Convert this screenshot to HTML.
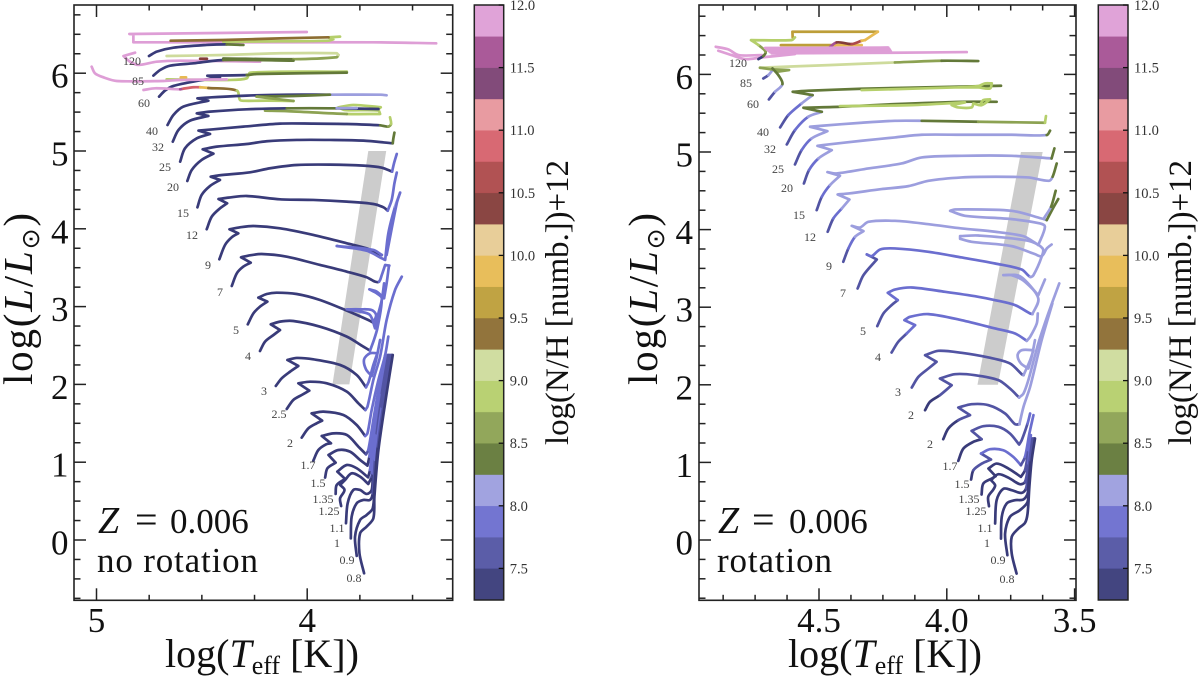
<!DOCTYPE html>
<html lang="en">
<head>
<meta charset="utf-8">
<title>HR diagrams, Z = 0.006</title>
<style>
html,body{margin:0;padding:0;background:#fff;}
svg{display:block;}
text{font-family:"Liberation Serif","DejaVu Serif",serif;fill:#111;}
.mass{font-size:12px;fill:#444;text-anchor:middle;}
.big{font-size:35px;}
.i{font-style:italic;}
</style>
</head>
<body>
<svg id="chart" width="1200" height="677" viewBox="0 0 1200 677" xmlns="http://www.w3.org/2000/svg">
<defs>
<clipPath id="clipL"><rect x="74" y="5" width="379" height="595"/></clipPath>
<clipPath id="clipR"><rect x="699" y="5" width="377" height="595"/></clipPath>
</defs>
<g id="panelL">
<g id="marksL" clip-path="url(#clipL)"></g>
<g id="axesL"></g>
<g id="cbL"></g>
<g>
<text class="mass" x="132" y="65">120</text>
<text class="mass" x="138" y="85">85</text>
<text class="mass" x="144" y="107">60</text>
<text class="mass" x="152" y="135">40</text>
<text class="mass" x="158" y="151">32</text>
<text class="mass" x="165" y="171">25</text>
<text class="mass" x="173" y="191">20</text>
<text class="mass" x="183" y="217">15</text>
<text class="mass" x="192" y="239">12</text>
<text class="mass" x="208" y="269">9</text>
<text class="mass" x="220" y="296">7</text>
<text class="mass" x="236" y="334">5</text>
<text class="mass" x="248" y="360">4</text>
<text class="mass" x="264" y="395">3</text>
<text class="mass" x="279" y="418">2.5</text>
<text class="mass" x="290" y="447">2</text>
<text class="mass" x="308" y="469">1.7</text>
<text class="mass" x="318" y="487">1.5</text>
<text class="mass" x="323" y="503">1.35</text>
<text class="mass" x="329" y="515">1.25</text>
<text class="mass" x="337" y="532">1.1</text>
<text class="mass" x="337" y="547">1</text>
<text class="mass" x="347" y="564">0.9</text>
<text class="mass" x="354" y="582">0.8</text>
</g>
<text class="big" y="533"><tspan class="i" x="98" font-size="38">Z</tspan><tspan x="135" font-size="40">=</tspan><tspan x="170">0.006</tspan></text>
<text class="big" x="97" y="572" textLength="161">no rotation</text>
<text x="165" y="667" font-size="40">log(<tspan class="i">T</tspan><tspan font-size="26" dy="7">eff</tspan><tspan dy="-7"> [K])</tspan></text>
<text transform="translate(32,385) rotate(-90)" font-size="41" textLength="172">log(<tspan class="i">L</tspan>/<tspan class="i">L</tspan><tspan font-size="25" dy="7" style="font-family:'DejaVu Sans',sans-serif">⊙</tspan><tspan dy="-7">)</tspan></text>
<text transform="translate(568,445) rotate(-90)" font-size="33" textLength="285">log(N/H [numb.])+12</text>
</g>
<g id="panelR">
<g id="marksR" clip-path="url(#clipR)"></g>
<g id="axesR"></g>
<g id="cbR"></g>
<g>
<text class="mass" x="738" y="67">120</text>
<text class="mass" x="746" y="87">85</text>
<text class="mass" x="753" y="108">60</text>
<text class="mass" x="763" y="136">40</text>
<text class="mass" x="770" y="153">32</text>
<text class="mass" x="778" y="173">25</text>
<text class="mass" x="787" y="192">20</text>
<text class="mass" x="799" y="219">15</text>
<text class="mass" x="810" y="241">12</text>
<text class="mass" x="829" y="270">9</text>
<text class="mass" x="843" y="297">7</text>
<text class="mass" x="863" y="335">5</text>
<text class="mass" x="878" y="361">4</text>
<text class="mass" x="898" y="396">3</text>
<text class="mass" x="911" y="419">2</text>
<text class="mass" x="930" y="448">2</text>
<text class="mass" x="950" y="470">1.7</text>
<text class="mass" x="962" y="488">1.5</text>
<text class="mass" x="969" y="503">1.35</text>
<text class="mass" x="976" y="515">1.25</text>
<text class="mass" x="985" y="532">1.1</text>
<text class="mass" x="987" y="547">1</text>
<text class="mass" x="998" y="564">0.9</text>
<text class="mass" x="1007" y="583">0.8</text>
</g>
<text class="big" y="533"><tspan class="i" x="718" font-size="38">Z</tspan><tspan x="752" font-size="40">=</tspan><tspan x="789">0.006</tspan></text>
<text class="big" x="717" y="572" textLength="115">rotation</text>
<text x="788" y="667" font-size="40">log(<tspan class="i">T</tspan><tspan font-size="26" dy="7">eff</tspan><tspan dy="-7"> [K])</tspan></text>
<text transform="translate(657,385) rotate(-90)" font-size="41" textLength="172">log(<tspan class="i">L</tspan>/<tspan class="i">L</tspan><tspan font-size="25" dy="7" style="font-family:'DejaVu Sans',sans-serif">⊙</tspan><tspan dy="-7">)</tspan></text>
<text transform="translate(1191,445) rotate(-90)" font-size="33" textLength="285">log(N/H [numb.])+12</text>
</g>
</svg>
<script>
// Colour scale: log(N/H)+12 bins
const nhColors = ['#393b79','#5254a3','#6b6ecf','#9c9ede','#637939','#8ca252','#b5cf6b','#cedb9c','#8c6d31','#bd9e39','#e7ba52','#e7cb94','#843c39','#ad494a','#d6616b','#e7969c','#7b4173','#a55194','#de9ed6'];
const nhMin = 7.25;
const nhStep = 0.25;
const cbTickValues = [7.5,8.0,8.5,9.0,9.5,10.0,10.5,11.0,11.5,12.0];
const lumTicks = [0,1,2,3,4,5,6];
const leftTempTicks = [5,4];
const rightTempTicks = [4.5,4.0,3.5];

// Instability band (both panels)
const bandT = [3.71,3.625,3.80,3.88];
const bandL = [5,5,2,2];

// ---- no-rotation tracks: logTeff (T), logL (L), N/H per point (N, last value holds) ----
const lT120=[4.751,4.714,4.635,4.477,4.382,4.303];
const lL120=[6.221,6.277,6.328,6.363,6.371,6.363];
const lN120=[7.4,7.4,7.4,7.4,7.4,8.4];
const lT120p=[4.002,4.844,4.825,4.825,4.398,3.686,3.388];
const lL120p=[6.530,6.504,6.500,6.397,6.397,6.397,6.384];
const lN120p=[11.9];
const lT120g=[4.398,4.129,3.899,3.876,3.899,3.844];
const lL120g=[6.405,6.41,6.418,6.435,6.461,6.470];
const lN120g=[8.9];
const lT120b=[4.648,4.398,4.129,3.899];
const lL120b=[6.418,6.427,6.448,6.461];
const lN120b=[9.4];

const lT85g=[4.398,4.065,3.860,3.852,3.860,4.129,4.398,4.667];
const lL85g=[6.190,6.180,6.205,6.234,6.256,6.256,6.234,6.221];
const lN85g=[8.4,8.4,8.6,8.6,9.1];
const lT85p=[4.817,4.872,4.841,4.801,4.714,4.603,4.224];
const lL85p=[6.264,6.221,6.148,6.106,6.148,6.161,6.148];
const lN85p=[11.9];
const lT85=[4.730,4.698,4.651,4.540,4.398,4.065];
const lL85=[5.969,6.041,6.097,6.127,6.170,6.161];
const lN85=[7.4,7.4,7.4,7.4,7.4,8.4];
const lT85r=[4.508,4.476];
const lL85r=[6.186,6.186];
const lN85r=[10.4];

const lT60g=[3.812,4.271,4.287,4.374,4.667];
const lL60g=[6.020,6.007,5.934,5.913,5.921];
const lN60g=[8.9];
const lT60=[4.703,4.675,4.635,4.524,4.414,4.474,4.287,4.240,3.812];
const lL60=[5.699,5.776,5.836,5.900,5.947,5.968,5.977,5.990,6.007];
const lN60=[7.4,7.4,7.4,7.4,7.4,7.4,7.4,8.4];
const lT60p=[5.023,5.007,4.967,4.904,4.682,4.603,4.382];
const lL60p=[6.084,5.998,5.947,5.900,5.900,5.913,5.921];
const lN60p=[11.9];
const lT60o=[4.600,4.575];
const lL60o=[5.947,5.947];
const lN60o=[9.9];

const lT40r=[4.777,4.722,4.603,4.588,4.540,4.508,4.469,4.334,4.319,4.295,4.192,4.065];
const lL40r=[5.784,5.806,5.793,5.801,5.819,5.819,5.810,5.776,5.656,5.645,5.647,5.643];
const lN40r=[11.9,11.9,11.9,11.6,10.9,10.9,9.9,9.4,8.9];
const lT40=[4.663,4.635,4.588,4.469,4.521,4.453,4.287,4.097,3.892,3.654,3.623];
const lL40=[5.334,5.463,5.570,5.647,5.677,5.690,5.712,5.724,5.724,5.724,5.716];
const lN40=[7.4,7.4,7.4,7.4,7.4,7.4,7.4,7.4,7.4,8.1];
const lT40g=[4.240,4.065,3.892];
const lL40g=[5.699,5.707,5.724];
const lN40g=[8.4];
const lT40h=[4.240,4.160,4.065];
const lL40h=[5.699,5.673,5.643];
const lN40h=[8.6];

const lT32g=[3.662,3.651,3.781,3.852,3.821,3.662,3.654,3.812,4.097,4.200];
const lL32g=[5.540,5.562,5.592,5.562,5.527,5.520,5.476,5.476,5.513,5.519];
const lN32g=[8.9,8.9,8.9,8.9,8.9,8.9,8.9,8.9,8.6];
const lT32=[4.638,4.611,4.556,4.469,4.524,4.461,4.287,4.097,3.860,3.662];
const lL32=[5.120,5.270,5.390,5.450,5.484,5.506,5.536,5.549,5.549,5.540];
const lN32=[7.4,7.4,7.4,7.4,7.4,7.4,7.4,7.4,8.4,7.4];
const lT32b=[3.860,3.765];
const lL32b=[5.552,5.552];
const lN32b=[8.1];

const lT25=[4.603,4.580,4.524,4.461,4.516,4.445,4.303,4.129,3.971,3.812,3.654,3.615,3.602,3.607];
const lL25=[4.863,5.035,5.163,5.219,5.262,5.279,5.313,5.352,5.352,5.347,5.330,5.313,5.347,5.433];
const lN25=[7.4,7.4,7.4,7.4,7.4,7.4,7.4,7.4,7.4,7.4,7.4,8.4,8.6,8.9];

const lT20=[4.569,4.548,4.501,4.445,4.496,4.429,4.287,4.192,4.050,3.892,3.733,3.594,3.591,3.586];
const lL20=[4.615,4.756,4.885,4.966,5.022,5.056,5.090,5.125,5.142,5.142,5.133,5.099,5.163,5.236];
const lN20=[7.4,7.4,7.4,7.4,7.4,7.4,7.4,7.4,7.4,7.4,7.4,7.4,8.4];

const lT15=[4.521,4.501,4.461,4.414,4.458,4.414,4.271,4.176,4.050,3.892,3.733,3.646,3.597,3.588,3.575];
const lL15=[4.276,4.435,4.551,4.628,4.670,4.688,4.726,4.778,4.820,4.825,4.812,4.786,4.735,4.842,4.962];
const lN15=[7.4,7.4,7.4,7.4,7.4,7.4,7.4,7.4,7.4,7.4,7.4,7.4,7.4,7.9];

const lT12=[4.477,4.453,4.414,4.380,4.421,4.374,4.287,4.129,3.971,3.812,3.686,3.638,3.618,3.599,3.586,3.575];
const lL12=[3.994,4.156,4.263,4.328,4.383,4.401,4.422,4.379,4.371,4.349,4.319,4.276,4.233,4.371,4.585,4.722];
const lN12=[7.4,7.4,7.4,7.4,7.4,7.4,7.4,7.4,7.4,7.4,7.4,7.4,7.4,7.9];

const lT9=[4.417,4.390,4.358,4.327,4.369,4.319,4.255,4.129,3.971,3.812,3.718,3.670,3.646,3.686,3.860,3.718,3.646,3.630,3.615,3.583,3.559,3.575,3.623];
const lL9=[3.608,3.792,3.891,3.942,3.994,4.019,4.036,4.006,3.921,3.814,3.749,3.685,3.664,3.728,3.779,3.719,3.621,3.600,3.942,4.285,4.465,4.328,3.664];
const lN9=[7.4,7.4,7.4,7.4,7.4,7.4,7.4,7.4,7.4,7.4,7.4,7.4,7.4,7.9,7.9,7.9,7.9,7.9,7.9,7.9,8.1,7.9];

const lT7=[4.358,4.334,4.303,4.268,4.314,4.271,4.216,4.097,3.939,3.812,3.718,3.678,3.659,3.646,3.630,3.610];
const lL7=[3.265,3.428,3.514,3.565,3.634,3.659,3.676,3.642,3.535,3.449,3.377,3.321,3.321,3.407,3.535,3.527];
const lN7=[7.4,7.4,7.4,7.4,7.4,7.4,7.4,7.4,7.4,7.4,7.4,7.4,7.4,7.9];

const lT5=[4.282,4.255,4.224,4.189,4.232,4.192,4.145,4.050,3.939,3.812,3.718,3.686,3.673,3.694,3.749,3.812,3.749,3.702,3.678,3.662,3.646,3.635];
const lL5=[2.772,2.914,3.000,3.064,3.115,3.162,3.179,3.162,3.085,2.948,2.837,2.794,2.892,2.956,2.965,2.965,2.935,2.892,2.721,2.914,3.085,3.299];
const lN5=[7.4,7.4,7.4,7.4,7.4,7.4,7.4,7.4,7.4,7.4,7.4,7.4,7.9];

const lT4=[4.224,4.200,4.160,4.129,4.173,4.129,4.066,3.939,3.812,3.733,3.702,3.686,3.667,3.646,3.670,3.705,3.670,3.635,3.623,3.612];
const lL4=[2.429,2.550,2.635,2.699,2.772,2.807,2.815,2.742,2.614,2.485,2.434,2.550,2.721,3.107,3.171,3.222,3.192,3.107,3.299,3.526];
const lN4=[7.4,7.4,7.4,7.4,7.4,7.4,7.4,7.4,7.4,7.4,7.4,7.9];

const lT3=[4.149,4.121,4.081,4.042,4.094,4.050,3.971,3.844,3.765,3.721,3.708,3.686,3.667,3.702,3.730,3.721,3.694,3.673,3.654];
const lL3=[1.980,2.078,2.164,2.237,2.314,2.340,2.322,2.250,2.121,1.963,2.035,2.250,2.400,2.400,2.322,2.194,2.108,2.314,2.571];
const lN3=[7.4,7.4,7.4,7.4,7.4,7.4,7.4,7.4,7.4,7.4,7.9];

const lT25b=[4.097,4.066,4.026,3.990,4.042,3.986,3.907,3.812,3.757,3.724,3.714,3.686,3.654,3.623,3.583,3.551];
const lL25b=[1.684,1.800,1.864,1.920,2.014,2.035,2.014,1.907,1.757,1.671,1.714,2.057,2.357,2.828,3.214,3.385];
const lN25b=[7.4,7.4,7.4,7.4,7.4,7.4,7.4,7.4,7.4,7.4,7.9];

const lT2=[4.026,3.994,3.955,3.929,3.979,3.923,3.828,3.765,3.725,3.714,3.694,3.662,3.630,3.615];
const lL2=[1.316,1.436,1.500,1.534,1.628,1.650,1.607,1.478,1.337,1.371,1.671,2.057,2.378,2.614];
const lN2=[7.4,7.4,7.4,7.4,7.4,7.4,7.4,7.4,7.4,7.9];

const lT17=[3.971,3.947,3.910,3.887,3.931,3.876,3.812,3.757,3.721,3.710,3.686,3.662,3.630];
const lL17=[1.020,1.157,1.230,1.243,1.337,1.371,1.350,1.200,1.101,1.157,1.543,1.928,2.378];
const lN17=[7.4,7.4,7.4,7.4,7.4,7.4,7.4,7.4,7.4,7.6,7.9];

const lT15b=[3.915,3.904,3.865,3.899,3.852,3.797,3.749,3.714,3.705,3.686,3.659,3.626];
const lL15b=[0.802,0.922,0.994,1.093,1.157,1.136,1.029,0.956,1.072,1.457,1.885,2.378];
const lN15b=[7.4,7.4,7.4,7.4,7.4,7.4,7.4,7.4,7.4,7.9,7.9];

const lT135=[3.865,3.860,3.820,3.857,3.812,3.765,3.711,3.702,3.683,3.654,3.619];
const lL135=[0.592,0.707,0.785,0.879,0.964,0.922,0.806,0.900,1.371,1.885,2.378];
const lN135=[7.4,7.4,7.4,7.4,7.4,7.4,7.4,7.4,7.9,7.9];

const lT125=[3.839,3.844,3.823,3.844,3.820,3.789,3.749,3.710,3.695,3.678,3.646,3.615];
const lL125=[0.437,0.536,0.643,0.707,0.772,0.857,0.814,0.720,0.814,1.286,1.885,2.378];
const lN125=[7.4,7.4,7.4,7.4,7.4,7.4,7.4,7.4,7.4,7.9,7.9,7.6];

const lT11=[3.816,3.808,3.781,3.749,3.718,3.694,3.689,3.670,3.646,3.610];
const lL11=[0.215,0.472,0.643,0.643,0.592,0.643,0.857,1.371,1.843,2.378];
const lN11=[7.4,7.4,7.4,7.4,7.4,7.4,7.4,7.9,7.6];

const lT10=[3.793,3.789,3.765,3.733,3.702,3.689,3.678,3.646,3.603];
const lL10=[0.022,0.300,0.472,0.515,0.515,0.600,1.029,1.714,2.378];
const lN10=[7.4,7.4,7.4,7.4,7.4,7.4,7.6,7.9,7.6];

const lT09=[3.765,3.773,3.749,3.718,3.689,3.681,3.665,3.630,3.599];
const lL09=[-0.205,0.043,0.257,0.322,0.407,0.686,1.200,1.885,2.378];
const lN09=[7.4,7.4,7.4,7.4,7.4,7.4,7.4,7.6];

const lT08=[3.730,3.752,3.749,3.718,3.686,3.681,3.662,3.623,3.594];
const lL08=[-0.428,-0.171,0.086,0.172,0.279,0.557,1.157,1.885,2.378];
const lN08=[7.4];

// ---- rotation tracks ----
const rT120p1=[4.904,4.855,4.815,4.724];
const rL120p1=[6.356,6.322,6.249,6.249];
const rN120p1=[11.9];
const rT120p2=[4.894,4.842,4.789,4.724,4.594];
const rL120p2=[6.305,6.249,6.197,6.219,6.262];
const rN120p2=[11.9];
const rT120o=[4.603,4.604,4.270,4.320];
const rL120o=[6.477,6.550,6.550,6.442];
const rN120o=[9.6,9.6,9.6,9.9];
const rT120q=[4.649,4.437,4.333];
const rL120q=[6.378,6.378,6.378];
const rN120q=[9.6,9.6,9.9];
const rT120=[4.737,4.718,4.709,4.737,4.766,4.607,4.594];
const rL120=[6.197,6.236,6.292,6.378,6.442,6.442,6.477];
const rN120=[7.4,7.4,8.4,8.6,8.9];
const rT120r=[4.463,4.431,4.372,4.333,4.320];
const rL120r=[6.335,6.412,6.391,6.434,6.442];
const rN120r=[11.9,11.6,10.4,10.6,9.9];
const rT120p3=[4.711,4.229,4.705,4.225,4.698,4.222,4.692,4.219,4.685,4.216,3.922];
const rL120p3=[6.340,6.345,6.322,6.330,6.305,6.313,6.288,6.297,6.271,6.279,6.288];
const rN120p3=[11.9];

const rT85c=[4.731,4.463,4.203,4.020,3.877];
const rL85c=[6.086,6.120,6.154,6.176,6.172];
const rN85c=[8.4,9.1,9.1,8.6,8.4];
const rT85=[4.718,4.698,4.682];
const rL85=[5.948,5.991,6.056];
const rN85=[7.4,7.6,8.1];
const rT85h=[4.731,4.682,4.617,4.665];
const rL85h=[6.086,6.065,6.056,6.034];
const rN85h=[8.6];

const rT60=[4.696,4.672,4.643,4.659,4.682];
const rL60=[5.677,5.776,5.875,5.991,6.077];
const rN60=[7.4,7.6,8.1,8.4];

const rT40=[4.652,4.620,4.568,4.525,4.603,4.542,4.333,3.968,3.788];
const rL40=[5.317,5.476,5.626,5.733,5.776,5.789,5.815,5.841,5.854];
const rN40=[7.4,7.6,7.9,8.1,8.4];
const rT40p=[4.333,3.968,3.877,3.851,3.824,3.831,3.877,3.968];
const rL40p=[5.798,5.832,5.849,5.884,5.884,5.819,5.832,5.832];
const rN40p=[8.9];

const rT32=[4.626,4.594,4.542,4.489,4.561,4.418,4.203,3.942,3.805];
const rL32=[5.097,5.282,5.454,5.518,5.570,5.583,5.617,5.647,5.647];
const rN32=[7.4,7.6,7.9,8.1,8.4];
const rT32p=[4.418,4.137,3.929,3.981,3.955,3.903,3.896,3.864,3.831,3.857,3.870];
const rL32p=[5.592,5.604,5.639,5.604,5.574,5.574,5.626,5.604,5.678,5.669,5.604];
const rN32p=[8.9];

const rT25=[4.594,4.568,4.529,4.467,4.535,4.489,4.333,4.203,4.098,3.877,3.616,3.612];
const rL25=[4.840,5.024,5.175,5.269,5.325,5.338,5.377,5.402,5.402,5.390,5.377,5.463];
const rN25=[7.4,7.6,7.9,8.1,8.1,8.1,8.1,8.1,8.1,8.4,8.6,8.9];

const rT20=[4.559,4.539,4.502,4.450,4.506,4.463,4.333,4.203,4.098,3.942,3.746,3.609,3.596];
const rL20=[4.595,4.767,4.917,5.024,5.080,5.097,5.145,5.188,5.222,5.222,5.222,5.218,5.274];
const rN20=[7.4,7.6,7.9,8.1,8.1,8.1,8.1,8.1,8.1,8.1,8.1,8.1,8.4];

const rT15=[4.509,4.489,4.457,4.418,4.467,4.431,4.307,4.177,4.098,3.942,3.746,3.590,3.579];
const rL15=[4.251,4.423,4.573,4.694,4.741,4.724,4.788,4.852,4.930,4.951,4.951,4.917,5.046];
const rN15=[7.4,7.6,7.9,8.1,8.1,8.1,8.1,8.1,8.1,8.1,8.1,8.1,8.4];

const rT12=[4.466,4.444,4.411,4.381,4.427,4.383,4.255,4.150,4.072,3.942,3.811,3.681,3.600,3.586,3.570];
const rL12=[3.972,4.143,4.272,4.388,4.453,4.466,4.522,4.560,4.629,4.672,4.681,4.672,4.629,4.681,4.852];
const rN12=[7.4,7.6,7.9,8.1,8.1,8.1,8.1,8.1,8.1,8.1,8.1,8.1,8.1,8.1,8.4];

const rT9=[4.405,4.385,4.359,4.326,4.372,4.340,4.307,4.203,4.072,3.942,3.811,3.701,3.661,3.642,3.616,3.635,3.746,3.929,3.987,3.968,3.746,3.629,3.609,3.583,3.564];
const rL9=[3.585,3.757,3.907,3.980,4.049,4.027,4.100,4.113,4.070,4.015,3.972,3.916,3.843,3.800,4.036,4.079,4.135,4.178,4.242,4.260,4.242,4.143,4.122,4.285,4.393];
const rN9=[7.4,7.6,7.9,8.1,8.1,8.1,8.1,8.1,8.1,8.1,8.1,8.1,8.1,8.1,8.1,8.1,8.1,8.1,8.1,8.1,8.1,8.1,8.1,8.4];

const rTx=[3.618,3.592,3.574];
const rLx=[4.156,4.294,4.500];
const rNx=[8.1,8.1,8.4];

const rT7=[4.349,4.326,4.274,4.313,4.294,4.261,4.203,4.072,3.942,3.811,3.707,3.674,3.661,3.629,3.625,3.681,3.877,3.948,3.948,3.903,3.746,3.655,3.629,3.609,3.590];
const rL7=[3.241,3.413,3.615,3.680,3.658,3.744,3.757,3.714,3.641,3.563,3.486,3.391,3.413,3.649,3.757,3.856,3.924,3.916,3.881,3.843,3.787,3.684,3.658,3.757,3.808];
const rN7=[7.4,7.6,7.6,7.6,7.9,7.9,7.9,7.9,7.9,7.9,7.9,7.9,8.1];

const rT5=[4.272,4.248,4.216,4.192,4.231,4.203,4.137,4.007,3.877,3.811,3.733,3.674,3.665,3.642,3.694,3.746,3.779,3.714,3.642,3.616];
const rL5=[2.756,2.919,3.027,3.091,3.185,3.228,3.254,3.198,3.134,3.091,3.027,2.919,2.911,3.112,3.327,3.413,3.413,3.400,3.155,3.357];
const rN5=[7.4,7.6,7.6,7.6,7.9,7.9,7.9,7.9,7.9,7.9,7.9,7.9,7.9,8.1];

const rT4=[4.216,4.190,4.157,4.124,4.166,4.144,4.072,3.942,3.811,3.733,3.687,3.674,3.648,3.644];
const rL4=[2.416,2.554,2.661,2.769,2.833,2.876,2.911,2.833,2.726,2.661,2.567,2.618,2.790,2.919];
const rN4=[7.4,7.6,7.6,7.9,7.9,7.9,7.9,7.9,7.9,7.9,7.9,8.1];

const rT3=[4.137,4.111,4.072,4.040,4.085,4.033,3.942,3.837,3.753,3.707,3.700,3.688,3.674,3.661,3.707,3.723,3.710,3.681,3.668,3.655];
const rL3=[1.965,2.103,2.210,2.296,2.382,2.438,2.412,2.352,2.275,2.137,2.124,2.210,2.317,2.446,2.446,2.382,2.275,2.210,2.361,2.575];
const rN3=[7.4,7.6,7.6,7.6,7.6,7.6,7.6,7.6,7.6,7.6,7.6,8.1];

const rT2u=[4.085,4.066,4.027,3.981,4.027,3.968,3.890,3.798,3.753,3.717,3.700,3.681,3.642,3.603,3.560];
const rL2u=[1.673,1.780,1.866,1.995,2.081,2.137,2.124,2.060,1.952,1.836,1.888,2.060,2.532,2.919,3.306];
const rN2u=[7.4,7.4,7.4,7.6,7.6,7.6,7.6,7.6,7.6,7.6,8.1];

const rT2l=[4.014,3.994,3.955,3.909,3.955,3.903,3.837,3.772,3.733,3.716,3.700,3.674,3.629,3.587];
const rL2l=[1.299,1.437,1.544,1.609,1.707,1.750,1.737,1.630,1.492,1.492,1.716,1.974,2.575,3.048];
const rN2l=[7.4,7.4,7.4,7.6,7.6,7.6,7.6,7.6,7.6,7.6,8.1];

const rT17=[3.955,3.935,3.896,3.864,3.903,3.857,3.798,3.753,3.717,3.707,3.684,3.674];
const rL17=[1.020,1.179,1.265,1.299,1.407,1.467,1.458,1.372,1.230,1.286,1.501,1.630];
const rN17=[7.4,7.4,7.4,7.4,7.6,7.6,7.6,7.6,7.6,7.6,7.6,7.9];

const rT15b=[3.905,3.896,3.863,3.827,3.866,3.831,3.779,3.740,3.710,3.694,3.677,3.661];
const rL15b=[0.779,0.899,0.985,1.037,1.114,1.170,1.157,1.071,0.964,1.071,1.372,1.609];
const rN15b=[7.4,7.4,7.6,7.6,7.6,7.9,7.9,7.9,7.9,7.6,7.9];

const rT135=[3.864,3.857,3.824,3.809,3.837,3.805,3.759,3.710,3.694,3.681,3.671];
const rL135=[0.586,0.728,0.792,0.822,0.921,0.985,0.921,0.814,0.900,1.157,1.351];
const rN135=[7.4,7.4,7.4,7.4,7.4,7.4,7.4,7.4,7.4,7.6,7.9];

const rT125=[3.835,3.838,3.818,3.811,3.827,3.798,3.753,3.714,3.694,3.681,3.671];
const rL125=[0.435,0.556,0.650,0.706,0.771,0.848,0.792,0.719,0.749,0.985,1.308];
const rN125=[7.4,7.4,7.4,7.4,7.4,7.4,7.4,7.4,7.4,7.6,7.9];

const rT11=[3.811,3.805,3.779,3.746,3.707,3.690,3.681,3.665];
const rL11=[0.212,0.513,0.659,0.642,0.607,0.663,0.899,1.308];
const rN11=[7.4,7.4,7.4,7.4,7.4,7.4,7.6];

const rT10=[3.788,3.785,3.766,3.733,3.701,3.684,3.678,3.661];
const rL10=[0.019,0.298,0.470,0.513,0.521,0.599,0.857,1.308];
const rN10=[7.4,7.4,7.4,7.4,7.4,7.4,7.6];

const rT09=[3.763,3.772,3.753,3.714,3.684,3.681,3.671,3.658];
const rL09=[-0.196,0.083,0.298,0.384,0.491,0.685,1.028,1.308];
const rN09=[7.4,7.4,7.4,7.4,7.4,7.4,7.4,7.6];

const rT08=[3.727,3.746,3.746,3.720,3.694,3.684,3.677,3.668,3.655];
const rL08=[-0.433,-0.175,0.040,0.148,0.221,0.341,0.685,1.028,1.308];
const rN08=[7.4];

// Draw order: first listed is drawn underneath
const leftTracks = [
 [lT120p,lL120p,lN120p],[lT120g,lL120g,lN120g],[lT120b,lL120b,lN120b],[lT120,lL120,lN120],
 [lT85g,lL85g,lN85g],[lT85p,lL85p,lN85p],[lT85,lL85,lN85],[lT85r,lL85r,lN85r],
 [lT60g,lL60g,lN60g],[lT60,lL60,lN60],[lT60p,lL60p,lN60p],[lT60o,lL60o,lN60o],
 [lT40r,lL40r,lN40r],[lT40,lL40,lN40],[lT40g,lL40g,lN40g],[lT40h,lL40h,lN40h],
 [lT32g,lL32g,lN32g],[lT32,lL32,lN32],[lT32b,lL32b,lN32b],
 [lT25,lL25,lN25],[lT20,lL20,lN20],[lT15,lL15,lN15],[lT12,lL12,lN12],[lT9,lL9,lN9],[lT7,lL7,lN7],
 [lT5,lL5,lN5],[lT4,lL4,lN4],[lT3,lL3,lN3],[lT25b,lL25b,lN25b],[lT2,lL2,lN2],[lT17,lL17,lN17],
 [lT15b,lL15b,lN15b],[lT135,lL135,lN135],[lT125,lL125,lN125],[lT11,lL11,lN11],[lT10,lL10,lN10],[lT09,lL09,lN09],[lT08,lL08,lN08]
];
const rightTracks = [
 [rT120p1,rL120p1,rN120p1],[rT120p2,rL120p2,rN120p2],[rT120o,rL120o,rN120o],[rT120q,rL120q,rN120q],
 [rT120,rL120,rN120],[rT120r,rL120r,rN120r],[rT120p3,rL120p3,rN120p3],
 [rT85c,rL85c,rN85c],[rT85,rL85,rN85],[rT85h,rL85h,rN85h],[rT60,rL60,rN60],
 [rT40,rL40,rN40],[rT40p,rL40p,rN40p],[rT32,rL32,rN32],[rT32p,rL32p,rN32p],
 [rT25,rL25,rN25],[rT20,rL20,rN20],[rT15,rL15,rN15],[rT12,rL12,rN12],[rT9,rL9,rN9],[rTx,rLx,rNx],[rT7,rL7,rN7],
 [rT5,rL5,rN5],[rT4,rL4,rN4],[rT3,rL3,rN3],[rT2u,rL2u,rN2u],[rT2l,rL2l,rN2l],[rT17,rL17,rN17],
 [rT15b,rL15b,rN15b],[rT135,rL135,rN135],[rT125,rL125,rN125],[rT11,rL11,rN11],[rT10,rL10,rN10],[rT09,rL09,rN09],[rT08,rL08,rN08]
];

const SVGNS = 'http://www.w3.org/2000/svg';
function make(tag, parent, attrs){
  const el = document.createElementNS(SVGNS, tag);
  for (const k in attrs) el.setAttribute(k, attrs[k]);
  parent.appendChild(el);
  return el;
}
function nhColor(v){
  const i = Math.max(0, Math.min(nhColors.length-1, Math.floor((v-nhMin)/nhStep)));
  return nhColors[i];
}
const panelL = {
  x: T => 96.5 + (5 - T) * 210.7,
  y: L => 540 - L * 77.8,
  left: 74, right: 452.7, top: 5, bottom: 600.3,
  cbLeft: 474.3, cbRight: 503.7,
  tempTicks: leftTempTicks, tempStart: 5, tempEnd: 3.5, tempStep: 0.25, tempFmt: v => v.toFixed(0),
  yLabelX: 68.5, tracks: leftTracks, marks: 'marksL', axes: 'axesL', cb: 'cbL'
};
const panelR = {
  x: T => 819 + (4.5 - T) * 255.6,
  y: L => 540 - L * 77.6,
  left: 699, right: 1076, top: 5, bottom: 600.3,
  cbLeft: 1098.3, cbRight: 1128,
  tempTicks: rightTempTicks, tempStart: 4.875, tempEnd: 3.5, tempStep: 0.125, tempFmt: v => v.toFixed(1),
  yLabelX: 693, tracks: rightTracks, marks: 'marksR', axes: 'axesR', cb: 'cbR'
};
function bandPath(p){
  return bandT.map((t,i)=>(i?'L':'M')+p.x(t).toFixed(2)+' '+p.y(bandL[i]).toFixed(2)).join(' ')+' Z';
}
function unit(a,b){
  const dx = b[0]-a[0], dy = b[1]-a[1], m = Math.hypot(dx,dy)||1;
  return [dx/m,dy/m];
}
function trackSegments(p, T, L, N){
  const pts = T.map((t,i)=>[p.x(t),p.y(L[i])]);
  const tanIn = [], tanOut = [];
  pts.forEach((q,i)=>{
    const a = pts[Math.max(0,i-1)], b = pts[Math.min(pts.length-1,i+1)];
    const uIn = unit(a,q), uOut = unit(q,b);
    const corner = i>0 && i<pts.length-1 && (uIn[0]*uOut[0]+uIn[1]*uOut[1]) < 0.25;
    if (corner){ tanIn.push(uIn); tanOut.push(uOut); }
    else { const u = unit(a,b); tanIn.push(u); tanOut.push(u); }
  });
  const runs = [];
  for (let i=0;i<pts.length-1;i++){
    const v = N[Math.min(i+1,N.length-1)];
    const col = nhColor(v);
    const a = pts[i], b = pts[i+1];
    const len = Math.hypot(b[0]-a[0],b[1]-a[1]);
    const k = len*0.3;
    const seg = 'C'+(a[0]+tanOut[i][0]*k).toFixed(2)+' '+(a[1]+tanOut[i][1]*k).toFixed(2)+' '+
      (b[0]-tanIn[i+1][0]*k).toFixed(2)+' '+(b[1]-tanIn[i+1][1]*k).toFixed(2)+' '+b[0].toFixed(2)+' '+b[1].toFixed(2);
    if (runs.length && runs[runs.length-1].col===col){ runs[runs.length-1].d += seg; }
    else { runs.push({col:col,d:'M'+a[0].toFixed(2)+' '+a[1].toFixed(2)+seg}); }
  }
  return runs;
}
function drawPanel(p){
  const marks = document.getElementById(p.marks);
  const band = make('path', marks, {d:bandPath(p), fill:'#cccccc'});
  
  
  p.tracks.forEach(tr=>{
    trackSegments(p,tr[0],tr[1],tr[2]).forEach(run=>{
      const path = make('path', marks, {d:run.d, fill:'none', stroke:run.col, 'stroke-width':2.7, 'stroke-linecap':'round', 'stroke-linejoin':'round'});
      
      
    });
  });
  const axes = document.getElementById(p.axes);
  const tick = (x1,y1,x2,y2)=>{
    const ln = make('line', axes, {x1:x1,y1:y1,x2:x2,y2:y2,stroke:'#222','stroke-width':1.5});
    
    
  };
  // luminosity ticks every 0.25
  for (let i=-3;i<=27;i++){
    const v = i*0.25, yy = p.y(v), len = (i%4===0)?12:6.5;
    tick(p.left,yy,p.left+len,yy);
    tick(p.right,yy,p.right-len,yy);
  }
  lumTicks.forEach(v=>{
    const t = make('text', axes, {x:p.yLabelX, y:p.y(v)+14.5, 'font-size':35, 'text-anchor':'end'});
    
    
    t.textContent = String(v);
  });
  // temperature ticks
  const n = Math.round((p.tempStart-p.tempEnd)/p.tempStep);
  for (let i=0;i<=n;i++){
    const v = p.tempStart - i*p.tempStep, xx = p.x(v);
    const major = p.tempTicks.some(m=>Math.abs(m-v)<1e-6), len = major?12:5.5;
    tick(xx,p.top,xx,p.top+len);
    tick(xx,p.bottom,xx,p.bottom-len);
  }
  p.tempTicks.forEach(v=>{
    const t = make('text', axes, {x:p.x(v), y:632, 'font-size':35, 'text-anchor':'middle'});
    
    
    t.textContent = p.tempFmt(v);
  });
  const frame = make('rect', axes, {x:p.left,y:p.top,width:p.right-p.left,height:p.bottom-p.top,fill:'none',stroke:'#222','stroke-width':1.6});
  
  

  // colour bar
  const cb = document.getElementById(p.cb);
  const cy = v => 5 + (12 - v) * 125.2;
  nhColors.forEach((c,i)=>{
    const lo = nhMin + i*nhStep;
    const r = make('rect', cb, {x:p.cbLeft,y:cy(lo+nhStep),width:p.cbRight-p.cbLeft,height:cy(lo)-cy(lo+nhStep)+0.3,fill:c,'fill-opacity':0.95});
    
    
  });
  const cf = make('rect', cb, {x:p.cbLeft,y:5,width:p.cbRight-p.cbLeft,height:595,fill:'none',stroke:'#222','stroke-width':1.5});
  
  
  cbTickValues.forEach(v=>{
    const ln = make('line', cb, {x1:p.cbRight-5,y1:cy(v),x2:p.cbRight,y2:cy(v),stroke:'#111','stroke-width':1.3});
    
    
    const t = make('text', cb, {x:p.cbRight+6,y:cy(v)+5,'font-size':14.5,style:'fill:#333'});
    
    
    t.textContent = v.toFixed(1);
  });
}
drawPanel(panelL);
drawPanel(panelR);
</script>
</body>
</html>
